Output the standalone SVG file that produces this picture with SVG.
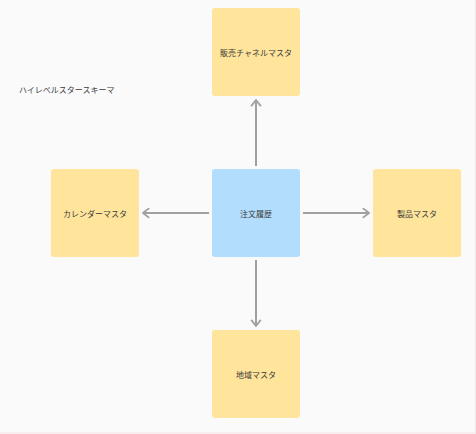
<svg xmlns="http://www.w3.org/2000/svg" width="476" height="434" viewBox="0 0 476 434">
<style>
.bg{fill:#fbfafa}
.dim{fill:#ffe49b}
.fact{fill:#b3ddfc}
.lbl{font-family:"Noto Sans CJK JP","Noto Sans",sans-serif;font-size:8px;fill:#3a3a3a;text-anchor:middle;dominant-baseline:central}
.title{font-family:"Noto Sans CJK JP","Noto Sans",sans-serif;font-size:8px;fill:#3a3a3a}
.conn{stroke:#a0a0a0;stroke-width:2;fill:none}
</style>
<defs>
<marker id="arr" viewBox="0 0 10 14" refX="8.5" refY="7" markerWidth="4" markerHeight="5.6" orient="auto" markerUnits="strokeWidth">
<path d="M1.5,1.5 L8.5,7 L1.5,12.5" fill="none" stroke="#a0a0a0" stroke-width="2.3" stroke-linecap="round" stroke-linejoin="round"/>
</marker>
</defs>
<rect class="bg" x="0" y="0" width="476" height="434"/>
<line x1="0" y1="433" x2="476" y2="433" stroke="#f3e3e3" stroke-width="1"/>
<line x1="475.5" y1="0" x2="475.5" y2="434" stroke="#efe6e6" stroke-width="1"/>
<text class="title" x="19" y="93">ハイレベルスタースキーマ</text>
<g id="connectors">
<line class="conn" x1="256" y1="166" x2="256" y2="100" marker-end="url(#arr)"/>
<line class="conn" x1="209" y1="213" x2="143" y2="213" marker-end="url(#arr)"/>
<line class="conn" x1="303" y1="213" x2="369" y2="213" marker-end="url(#arr)"/>
<line class="conn" x1="256" y1="260" x2="256" y2="326" marker-end="url(#arr)"/>
</g>
<g id="sales-channel">
<rect class="dim" x="212" y="8" width="88" height="88" rx="3"/>
<text class="lbl" x="256" y="52">販売チャネルマスタ</text>
</g>
<g id="calendar">
<rect class="dim" x="51" y="169" width="88" height="88" rx="3"/>
<text class="lbl" x="95" y="213">カレンダーマスタ</text>
</g>
<g id="order-history">
<rect class="fact" x="212" y="169" width="88" height="88" rx="3"/>
<text class="lbl" x="256" y="213">注文履歴</text>
</g>
<g id="product">
<rect class="dim" x="373" y="169" width="88" height="88" rx="3"/>
<text class="lbl" x="417" y="213">製品マスタ</text>
</g>
<g id="region">
<rect class="dim" x="212" y="330" width="88" height="88" rx="3"/>
<text class="lbl" x="256" y="374">地域マスタ</text>
</g>
</svg>
